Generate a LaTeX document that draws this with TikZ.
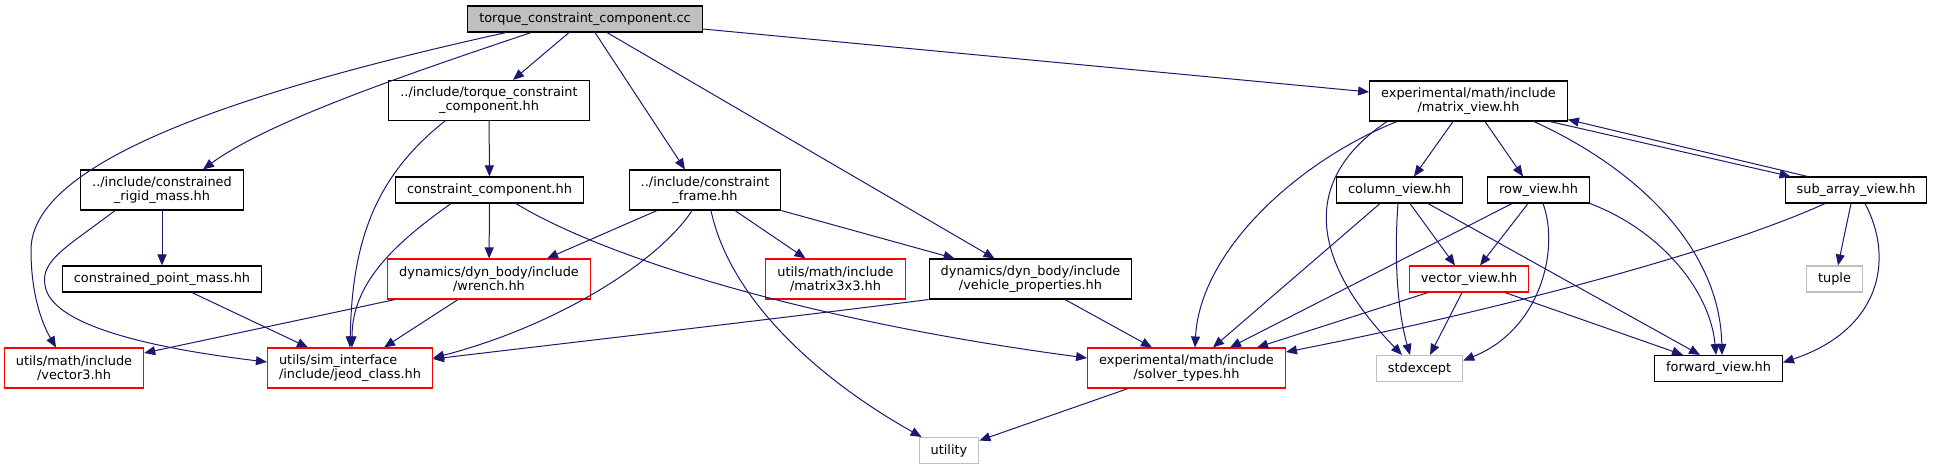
\documentclass[tikz,border=0pt]{standalone}
\usepackage{fontspec}
\setmainfont{DejaVu Sans}
\usetikzlibrary{arrows.meta}
\definecolor{edgeblue}{HTML}{191970}
\definecolor{extgray}{HTML}{BFBFBF}

\begin{document}
\begin{tikzpicture}[x=1pt, y=-1pt,
  filebox/.style={draw=black, line width=1.1pt, fill=white, inner xsep=11.5pt, inner ysep=0pt,
    minimum height=26pt, align=center, font=\fontsize{12.9}{14}\selectfont},
  twoline/.style={minimum height=40pt},
  redbox/.style={filebox, draw=red},
  extbox/.style={filebox, draw=extgray},
  dep/.style={draw=edgeblue, line width=1pt, -{Triangle[length=11pt,width=9pt]}}]
  \useasboundingbox (0,0) rectangle (1933,469);
  % rank 0 and 1
  \node[filebox, fill=extgray] (root) at (585,19) {torque\_constraint\_component.cc};
  \node[filebox, twoline] (tch) at (489,100.5) {../include/torque\_constraint\\\_component.hh};
  \node[filebox, twoline] (mv) at (1468.5,101) {experimental/math/include\\/matrix\_view.hh};
  % rank 2
  \node[filebox, twoline] (crm) at (162,190) {../include/constrained\\\_rigid\_mass.hh};
  \node[filebox] (cc) at (489.5,190) {constraint\_component.hh};
  \node[filebox, twoline] (cf) at (705,190) {../include/constraint\\\_frame.hh};
  \node[filebox] (cv) at (1399.5,190) {column\_view.hh};
  \node[filebox] (rv) at (1538.5,190) {row\_view.hh};
  \node[filebox] (sav) at (1856,190) {sub\_array\_view.hh};
  % rank 3
  \node[filebox] (cpm) at (162,279) {constrained\_point\_mass.hh};
  \node[redbox, twoline] (wr) at (489,279) {dynamics/dyn\_body/include\\/wrench.hh};
  \node[redbox, twoline] (m33) at (835.5,279) {utils/math/include\\/matrix3x3.hh};
  \node[filebox, twoline] (vp) at (1030.5,279) {dynamics/dyn\_body/include\\/vehicle\_properties.hh};
  \node[redbox] (vv) at (1469,279) {vector\_view.hh};
  \node[extbox] (tu) at (1834.5,279) {tuple};
  % rank 4
  \node[redbox, twoline] (v3) at (74,368) {utils/math/include\\/vector3.hh};
  \node[redbox, twoline, align=left] (jc) at (350,368) {utils/sim\_interface\\/include/jeod\_class.hh};
  \node[redbox, twoline] (st) at (1186.5,368) {experimental/math/include\\/solver\_types.hh};
  \node[extbox] (se) at (1419.5,368.5) {stdexcept};
  \node[filebox] (fv) at (1718.5,368.5) {forward\_view.hh};
  % rank 5
  \node[extbox] (ut) at (949,450.5) {utility};

  % from the .cc file
  \draw[dep] ([xshift=-79pt]root.south) .. controls (200,100) and (31,170) .. (31,250)
    .. controls (31,290) and (40,320) .. ([xshift=-18pt]v3.north);
  \draw[dep] ([xshift=-54pt]root.south) .. controls (420,70) and (270,120) .. ([xshift=41pt]crm.north);
  \draw[dep] ([xshift=-16pt]root.south) -- ([xshift=24pt]tch.north);
  \draw[dep] ([xshift=10pt]root.south) -- ([xshift=-20pt]cf.north);
  \draw[dep] ([xshift=22pt]root.south) -- ([xshift=-36pt]vp.north);
  \draw[dep] ([yshift=-10pt]root.east) -- ([yshift=9pt]mv.west);

  % left part
  \draw[dep] (tch) -- (cc);
  \draw[dep] ([xshift=-44pt]tch.south) .. controls (370,180) and (352,250) .. (jc.north);
  \draw[dep] (crm) -- (cpm);
  \draw[dep] ([xshift=-47pt]crm.south) .. controls (70,245) and (40,260) .. (45,285)
    .. controls (50,325) and (150,348) .. ([yshift=6pt]jc.west);
  \draw[dep] ([xshift=30pt]cpm.south) -- ([xshift=-42pt]jc.north);
  \draw[dep] (cc) -- (wr);
  \draw[dep] ([xshift=-38.5pt]cc.south) .. controls (400,240) and (352,280) .. ([xshift=2pt]jc.north);
  \draw[dep] ([xshift=26.5pt]cc.south) .. controls (600,255) and (800,320) .. ([yshift=10pt]st.west);
  \draw[dep] ([xshift=-48pt]cf.south) -- ([xshift=58pt]wr.north);
  \draw[dep] ([xshift=-13pt]cf.south) .. controls (660,260) and (560,325) .. ([yshift=10pt]jc.east);
  \draw[dep] ([xshift=6pt]cf.south) .. controls (730,300) and (820,380) .. ([xshift=3pt]ut.north west);
  \draw[dep] ([xshift=30pt]cf.south) -- ([xshift=-30pt]m33.north);
  \draw[dep] (cf.south east) -- ([xshift=26pt]vp.north west);
  \draw[dep] ([xshift=-94pt]wr.south) -- ([yshift=15pt]v3.east);
  \draw[dep] ([xshift=-31pt]wr.south) -- ([xshift=34pt]jc.north);
  \draw[dep] (vp.south west) .. controls (750,322) and (550,345) .. ([yshift=9pt]jc.east);
  \draw[dep] ([xshift=34.5pt]vp.south) -- ([xshift=-34.5pt]st.north);
  \draw[dep] ([xshift=-58.5pt]st.south) -- ([yshift=10pt]ut.east);

  % matrix_view part
  \draw[dep] ([xshift=-15.5pt]mv.south) -- ([xshift=14.5pt]cv.north);
  \draw[dep] ([xshift=16.5pt]mv.south) -- ([xshift=-15.5pt]rv.north);
  \draw[dep] ([xshift=81.5pt]mv.south) -- ([xshift=6pt]sav.north west);
  \draw[dep] ([xshift=23pt]sav.north west) -- ([yshift=2pt]mv.south east);
  \draw[dep] ([xshift=65.5pt]mv.south) .. controls (1640,170) and (1720,250) .. ([xshift=3.5pt]fv.north);
  \draw[dep] ([xshift=-81.5pt]mv.south) .. controls (1300,180) and (1310,260) .. ([xshift=-17.5pt]se.north);
  \draw[dep] ([xshift=-71.5pt]mv.south) .. controls (1300,160) and (1200,250) .. ([xshift=8.5pt]st.north);
  \draw[dep] ([xshift=-19.5pt]cv.south) -- ([xshift=26.5pt]st.north);
  \draw[dep] ([xshift=-1.5pt]cv.south) .. controls (1393,270) and (1400,320) .. ([xshift=-9.5pt]se.north);
  \draw[dep] ([xshift=10.5pt]cv.south) -- ([xshift=-14pt]vv.north);
  \draw[dep] ([xshift=28.5pt]cv.south) -- ([xshift=-18.5pt]fv.north);
  \draw[dep] ([xshift=-26.5pt]rv.south) -- ([xshift=43.5pt]st.north);
  \draw[dep] ([xshift=-10.5pt]rv.south) -- ([xshift=11pt]vv.north);
  \draw[dep] ([xshift=4.5pt]rv.south) .. controls (1560,250) and (1540,330) .. ([yshift=8pt]se.east);
  \draw[dep] (rv.south east) .. controls (1660,230) and (1710,290) .. ([xshift=-2.5pt]fv.north);
  \draw[dep] ([xshift=-41pt]vv.south) -- ([xshift=70.5pt]st.north);
  \draw[dep] ([xshift=-7pt]vv.south) -- ([xshift=10.5pt]se.north);
  \draw[dep] ([xshift=36pt]vv.south) -- ([xshift=-35.5pt]fv.north);
  \draw[dep] ([xshift=-31pt]sav.south) .. controls (1700,260) and (1450,320) .. ([yshift=16pt]st.east);
  \draw[dep] ([xshift=-5pt]sav.south) -- ([xshift=3.5pt]tu.north);
  \draw[dep] ([xshift=9pt]sav.south) .. controls (1895,260) and (1880,330) .. ([yshift=6pt]fv.east);
\end{tikzpicture}
\end{document}
